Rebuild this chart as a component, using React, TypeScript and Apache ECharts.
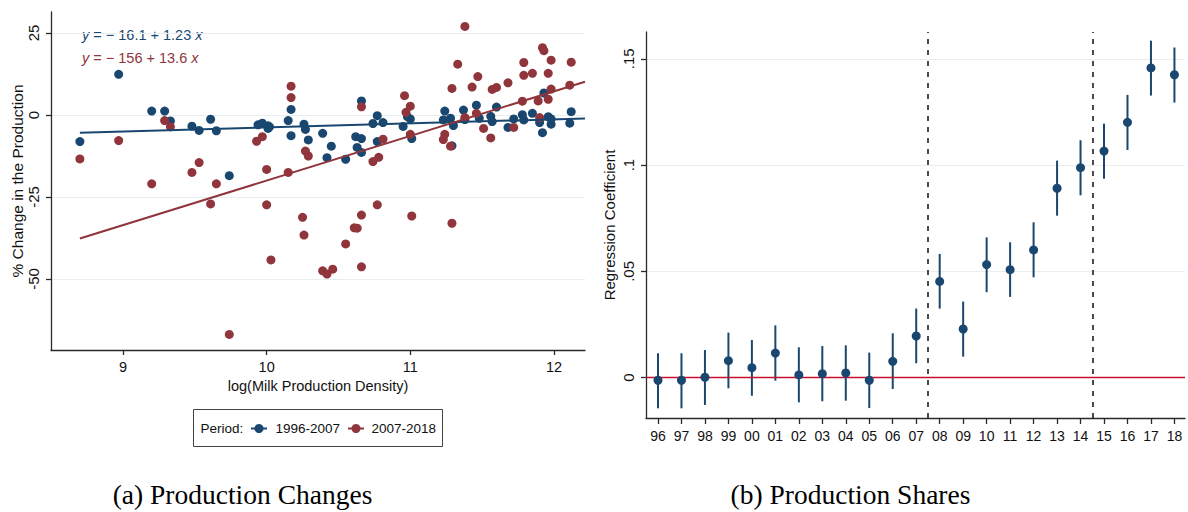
import React, { useEffect, useRef } from "react";
import * as echarts from "echarts";

// ---------- data: panel (a) ----------
const bluePoints: number[][] = [
  [8.70, -8.1], [8.97, 12.4], [9.20, 1.2], [9.29, 1.2], [9.33, -1.8], [9.48, -3.4], [9.53, -4.7],
  [9.61, -1.3], [9.65, -4.8], [9.74, -18.5], [9.94, -3.0], [9.97, -2.5], [10.01, -3.3], [10.02, -3.6],
  [10.01, -4.1], [10.15, -1.7], [10.17, 1.7], [10.17, -6.3], [10.26, -2.8], [10.27, -4.4], [10.29, -7.6],
  [10.39, -5.6], [10.42, -13.0], [10.45, -9.5], [10.55, -13.5], [10.62, -6.6], [10.66, -7.2], [10.63, -9.9],
  [10.66, -11.4], [10.66, 4.3], [10.74, -2.6], [10.77, -0.2], [10.81, -2.3], [10.77, -8.1], [10.95, -3.5],
  [10.98, -0.5], [11.00, -1.2], [11.01, -7.2], [11.24, 1.2], [11.23, -1.5], [11.28, -1.0], [11.30, -3.2],
  [11.29, -9.4], [11.37, 1.5], [11.38, -1.4], [11.46, 3.0], [11.48, -1.0], [11.56, -0.4], [11.57, -2.0],
  [11.60, 2.4], [11.68, -3.8], [11.72, -1.2], [11.78, 0.1], [11.79, -1.5], [11.85, 0.5], [11.90, -2.3],
  [11.92, -5.4], [11.93, 6.7], [11.96, -0.5], [11.98, -2.8], [11.98, -1.2], [12.11, -2.5], [12.12, 1.0],
];
const redPoints: number[][] = [
  [8.70, -13.4], [8.97, -7.8], [9.20, -21.0], [9.29, -1.7], [9.33, -3.6], [9.48, -17.5], [9.53, -14.5],
  [9.61, -27.1], [9.65, -21.0], [9.74, -66.9], [9.93, -8.0], [9.97, -6.6], [10.00, -16.6], [10.00, -27.4],
  [10.03, -44.2], [10.15, -17.5], [10.17, 5.3], [10.17, 8.8], [10.25, -31.2], [10.26, -36.6], [10.27, -11.0],
  [10.29, -12.5], [10.39, -47.5], [10.42, -48.5], [10.46, -47.0], [10.55, -39.3], [10.61, -34.4],
  [10.63, -34.5], [10.66, -30.5], [10.66, -46.3], [10.66, 2.5], [10.74, -14.2], [10.78, -12.9],
  [10.77, -27.4], [10.81, -7.4], [10.96, 5.9], [10.97, 0.8], [11.00, 2.7], [11.00, -5.9], [11.01, -30.8],
  [11.24, -5.9], [11.23, -7.5], [11.28, -9.5], [11.29, -33.0], [11.29, 8.1], [11.33, 15.5], [11.38, 27.0],
  [11.38, -0.8], [11.43, 8.5], [11.46, 0.5], [11.47, 11.7], [11.51, -4.1], [11.56, -7.0], [11.57, 7.8],
  [11.60, 8.4], [11.68, 9.8], [11.72, -3.8], [11.78, 4.2], [11.79, 12.1], [11.79, 16.0], [11.85, 12.7],
  [11.89, 4.3], [11.90, -0.8], [11.92, 20.5], [11.93, 19.6], [11.96, 4.8], [11.96, 12.7], [11.98, 7.9],
  [11.98, 16.7], [12.11, 9.1], [12.12, 16.1],
];
const blueFit: number[][] = [[8.70, -5.4], [12.216, -1.07]];
const redFit: number[][] = [[8.70, -37.68], [12.216, 10.14]];
const leftXTicks = [9, 10, 11, 12];
const leftYTicks = [-50, -25, 0, 25];
const periodLabels = ["1996-2007", "2007-2018"];

// ---------- data: panel (b) ----------
const yearLabels = ["96", "97", "98", "99", "00", "01", "02", "03", "04", "05", "06", "07",
  "08", "09", "10", "11", "12", "13", "14", "15", "16", "17", "18"];
const coef = [-0.0012, -0.0012, 0.0002, 0.008, 0.0047, 0.0116, 0.0013, 0.0019, 0.0022, -0.0012, 0.0077,
  0.0196, 0.0453, 0.0229, 0.0532, 0.0508, 0.0601, 0.0891, 0.0988, 0.1066, 0.1201, 0.1457, 0.1425];
const ciHigh = [0.0115, 0.0115, 0.013, 0.0212, 0.0177, 0.0246, 0.0143, 0.0149, 0.0152, 0.0118, 0.0209,
  0.0325, 0.0582, 0.0358, 0.066, 0.0637, 0.0731, 0.1021, 0.1117, 0.1195, 0.133, 0.1585, 0.1553];
const ciLow = [-0.0144, -0.0144, -0.0128, -0.005, -0.0085, -0.0014, -0.0116, -0.0111, -0.0108, -0.0143,
  -0.0053, 0.0068, 0.0325, 0.0099, 0.0402, 0.038, 0.0472, 0.0762, 0.0858, 0.0936, 0.1071, 0.1327, 0.1294];
const rightYTicks = [0, 0.05, 0.1, 0.15];
const rightYLabels = ["0", ".05", ".1", ".15"];
const periodBreaks = [11.5, 18.5];

const BLUE = "#1a476f";
const RED = "#90353b";
const GRID = "#e6eef0";
const AXIS = "#2a2a2a";
const TXT = "#111";
const FONT = '"Liberation Sans", Arial, Helvetica, sans-serif';
const SERIF = '"Liberation Serif", "Times New Roman", serif';

export default function App() {
  const ref = useRef<HTMLDivElement>(null);
  useEffect(() => {
    if (!ref.current) return;
    const chart = echarts.init(ref.current, undefined, { renderer: "svg" });
    const yearIdx = yearLabels.map((_, i) => i);
    const axisLineStyle = { color: AXIS, width: 1.3 };
    const option: any = {
      animation: false,
      backgroundColor: "#fff",
      textStyle: { fontFamily: FONT },
      grid: [
        { left: 51, top: 12, width: 534, height: 338, outerBoundsMode: "none" },
        { left: 646, top: 32, width: 539, height: 386, outerBoundsMode: "none" },
      ],
      xAxis: [
        {
          gridIndex: 0, type: "value", min: 8.499, max: 12.216,
          name: "log(Milk Production Density)", nameLocation: "middle", nameGap: 27,
          nameTextStyle: { fontFamily: FONT, fontSize: 14.5, color: TXT },
          axisLine: { show: true, onZero: false, lineStyle: axisLineStyle },
          axisTick: { show: true, length: 5, customValues: leftXTicks, lineStyle: axisLineStyle },
          axisLabel: { customValues: leftXTicks, margin: 9, fontSize: 14.5, color: TXT, fontFamily: FONT },
          splitLine: { show: false },
        },
        {
          gridIndex: 1, type: "value", min: -0.511, max: 22.45,
          axisLine: { show: true, onZero: false, lineStyle: axisLineStyle },
          axisTick: { show: true, length: 6, customValues: yearIdx, lineStyle: axisLineStyle },
          axisLabel: {
            customValues: yearIdx, margin: 11, fontSize: 14, color: TXT, fontFamily: FONT,
            formatter: (v: number) => yearLabels[Math.round(v)] ?? "",
          },
          splitLine: { show: false },
        },
      ],
      yAxis: [
        {
          gridIndex: 0, type: "value", min: -71.65, max: 31.4,
          name: "% Change in the Production", nameLocation: "middle", nameGap: 26, nameRotate: 90,
          nameTextStyle: { fontFamily: FONT, fontSize: 15.5, color: TXT },
          axisLine: { show: true, onZero: false, lineStyle: axisLineStyle },
          axisTick: { show: true, length: 5, customValues: leftYTicks, lineStyle: axisLineStyle },
          axisLabel: { customValues: leftYTicks, rotate: 90, margin: 10, fontSize: 15, color: TXT, fontFamily: FONT },
          splitLine: { show: true, lineStyle: { color: GRID, width: 1.2 } },
        },
        {
          gridIndex: 1, type: "value", min: -0.01896, max: 0.1626,
          name: "Regression Coefficient", nameLocation: "middle", nameGap: 29, nameRotate: 90,
          nameTextStyle: { fontFamily: FONT, fontSize: 15, color: TXT },
          axisLine: { show: true, onZero: false, lineStyle: axisLineStyle },
          axisTick: { show: true, length: 5, customValues: rightYTicks, lineStyle: axisLineStyle },
          axisLabel: {
            customValues: rightYTicks, rotate: 90, margin: 10, fontSize: 15, color: TXT, fontFamily: FONT,
            formatter: (v: number) => {
              const i = rightYTicks.findIndex((t) => Math.abs(t - v) < 1e-9);
              return i >= 0 ? rightYLabels[i] : "";
            },
          },
          splitLine: { show: true, lineStyle: { color: GRID, width: 1.2 } },
        },
      ],
      series: [
        {
          type: "scatter", name: periodLabels[0], xAxisIndex: 0, yAxisIndex: 0, z: 3,
          data: bluePoints, symbol: "circle", symbolSize: 9, itemStyle: { color: BLUE, opacity: 1 },
        },
        {
          type: "scatter", name: periodLabels[1], xAxisIndex: 0, yAxisIndex: 0, z: 4,
          data: redPoints, symbol: "circle", symbolSize: 9, itemStyle: { color: RED, opacity: 1 },
        },
        {
          type: "line", xAxisIndex: 0, yAxisIndex: 0, z: 5, data: blueFit, showSymbol: false,
          lineStyle: { color: BLUE, width: 2 },
        },
        {
          type: "line", xAxisIndex: 0, yAxisIndex: 0, z: 6, data: redFit, showSymbol: false,
          lineStyle: { color: RED, width: 2 },
        },
        {
          type: "custom", xAxisIndex: 1, yAxisIndex: 1, z: 3,
          data: yearLabels.map((_, i) => [i, ciLow[i], ciHigh[i]]),
          encode: { x: 0, y: [1, 2] },
          renderItem: (_p: any, api: any) => {
            const x = api.value(0);
            const lo = api.coord([x, api.value(1)]);
            const hi = api.coord([x, api.value(2)]);
            return {
              type: "line",
              shape: { x1: lo[0], y1: lo[1], x2: hi[0], y2: hi[1] },
              style: { stroke: BLUE, lineWidth: 2 },
            };
          },
          markLine: {
            silent: true, symbol: "none", label: { show: false }, animation: false,
            data: [
              { yAxis: 0, lineStyle: { color: "#c8102e", width: 1.4, type: "solid" } },
              ...periodBreaks.map((b) => ({ xAxis: b, lineStyle: { color: "#111", width: 1.5, type: [5, 6] } })),
            ],
          },
        },
        {
          type: "scatter", xAxisIndex: 1, yAxisIndex: 1, z: 5,
          data: yearLabels.map((_, i) => [i, coef[i]]),
          symbol: "circle", symbolSize: 9, itemStyle: { color: BLUE, opacity: 1 },
        },
      ],
      graphic: [
        {
          type: "text", left: 82, top: 27,
          style: {
            text: "{i|y} = − 16.1 + 1.23 {i|x}", fill: BLUE, fontFamily: FONT, fontSize: 14.5,
            rich: { i: { fontStyle: "italic", fill: BLUE, fontFamily: FONT, fontSize: 14.5 } },
          },
        },
        {
          type: "text", left: 82, top: 50,
          style: {
            text: "{i|y} = − 156 + 13.6 {i|x}", fill: RED, fontFamily: FONT, fontSize: 14.5,
            rich: { i: { fontStyle: "italic", fill: RED, fontFamily: FONT, fontSize: 14.5 } },
          },
        },
        {
          type: "group", left: 193, top: 409,
          children: [
            { type: "rect", shape: { x: 0, y: 0, width: 249, height: 37 }, style: { fill: "#fff", stroke: "#444", lineWidth: 1 } },
            { type: "text", x: 7, y: 19, style: { text: "Period:", fill: TXT, fontFamily: FONT, fontSize: 13.5, verticalAlign: "middle" } },
            { type: "line", shape: { x1: 57.5, y1: 19, x2: 73.5, y2: 19 }, style: { stroke: BLUE, lineWidth: 2 } },
            { type: "circle", shape: { cx: 65.5, cy: 19, r: 4.5 }, style: { fill: BLUE } },
            { type: "text", x: 82, y: 19, style: { text: periodLabels[0], fill: TXT, fontFamily: FONT, fontSize: 13.5, verticalAlign: "middle" } },
            { type: "line", shape: { x1: 154.5, y1: 19, x2: 170.5, y2: 19 }, style: { stroke: RED, lineWidth: 2 } },
            { type: "circle", shape: { cx: 162.5, cy: 19, r: 4.5 }, style: { fill: RED } },
            { type: "text", x: 178, y: 19, style: { text: periodLabels[1], fill: TXT, fontFamily: FONT, fontSize: 13.5, verticalAlign: "middle" } },
          ],
        },
        {
          type: "text", x: 242.5, y: 494,
          style: { text: "(a) Production Changes", fill: "#000", fontFamily: SERIF, fontSize: 27.5, align: "center", verticalAlign: "middle" },
        },
        {
          type: "text", x: 850.5, y: 494,
          style: { text: "(b) Production Shares", fill: "#000", fontFamily: SERIF, fontSize: 27.5, align: "center", verticalAlign: "middle" },
        },
      ],
    };
    chart.setOption(option);
    return () => chart.dispose();
  }, []);
  return (
    <div
      ref={ref}
      style={{ position: "absolute", left: 0, top: 0, width: 1188, height: 512, background: "#fff" }}
    />
  );
}
